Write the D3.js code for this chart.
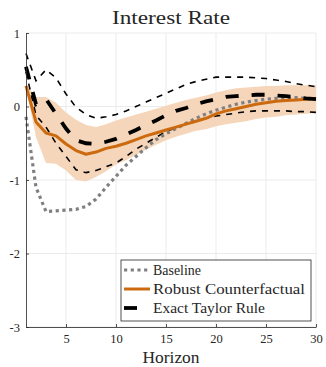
<!DOCTYPE html>
<html>
<head>
<meta charset="utf-8">
<script src="https://cdn.jsdelivr.net/npm/d3@7"></script>
<style>
  body { margin: 0; background: #fff; }
  text { font-family: "Liberation Serif", "DejaVu Serif", serif; fill: #262626; }
</style>
</head>
<body>
<div id="chart"></div>
<script>
// horizons 1..30
const horizon = d3.range(1, 31);

const baseline = [-0.14, -1.10, -1.43, -1.42, -1.41, -1.40, -1.36, -1.26, -1.10, -0.95,
  -0.80, -0.68, -0.56, -0.45, -0.37, -0.30, -0.23, -0.16, -0.10, -0.05,
  -0.01, 0.03, 0.06, 0.08, 0.10, 0.11, 0.11, 0.12, 0.11, 0.10];

const robust = [0.28, -0.21, -0.36, -0.40, -0.51, -0.60, -0.65, -0.62, -0.57, -0.54,
  -0.50, -0.45, -0.40, -0.36, -0.32, -0.28, -0.24, -0.20, -0.16, -0.10,
  -0.06, -0.03, 0.00, 0.03, 0.05, 0.07, 0.08, 0.09, 0.10, 0.11];

const bandUpper = [0.30, 0.13, 0.13, 0.05, -0.08, -0.18, -0.25, -0.28, -0.24, -0.19,
  -0.15, -0.11, -0.07, -0.03, 0.01, 0.05, 0.09, 0.12, 0.15, 0.19,
  0.22, 0.25, 0.26, 0.27, 0.28, 0.28, 0.29, 0.29, 0.29, 0.29];

const bandLower = [0.26, -0.42, -0.77, -0.78, -0.87, -1.00, -1.02, -0.96, -0.88, -0.79,
  -0.73, -0.66, -0.59, -0.52, -0.46, -0.41, -0.37, -0.33, -0.31, -0.27,
  -0.24, -0.22, -0.20, -0.17, -0.15, -0.14, -0.12, -0.11, -0.10, -0.09];

const taylor = [0.54, 0.03, 0.10, -0.10, -0.30, -0.46, -0.50, -0.51, -0.48, -0.44,
  -0.38, -0.32, -0.25, -0.19, -0.12, -0.06, -0.02, 0.03, 0.07, 0.10,
  0.13, 0.14, 0.15, 0.16, 0.16, 0.15, 0.14, 0.13, 0.11, 0.10];

const taylorUpper = [0.72, 0.35, 0.50, 0.39, 0.17, -0.01, -0.11, -0.16, -0.14, -0.11,
  -0.06, 0.00, 0.06, 0.12, 0.18, 0.24, 0.30, 0.34, 0.37, 0.40,
  0.40, 0.40, 0.40, 0.39, 0.38, 0.36, 0.34, 0.31, 0.29, 0.27];

const taylorLower = [0.47, -0.12, -0.28, -0.50, -0.68, -0.86, -0.90, -0.87, -0.82, -0.77,
  -0.68, -0.58, -0.50, -0.42, -0.34, -0.29, -0.24, -0.20, -0.16, -0.13,
  -0.11, -0.09, -0.07, -0.06, -0.06, -0.06, -0.06, -0.07, -0.07, -0.08];

const xTicks = [5, 10, 15, 20, 25, 30];
const yTicks = [1, 0, -1, -2, -3];
const yTickLabels = ["1", "0", "-1", "-2", "-3"];

const legendLabels = ["Baseline", "Robust Counterfactual", "Exact Taylor Rule"];

const width = 326;
const height = 367;

const svg = d3.select("#chart").append("svg")
  .attr("width", width)
  .attr("height", height);

const xScale = d3.scaleLinear().domain([1, 30]).range([26, 316]);
const yScale = d3.scaleLinear().domain([-3, 1]).range([327, 33]);

// grid
svg.append("g")
  .selectAll("line")
  .data(xTicks)
  .enter()
  .append("line")
  .attr("x1", d => xScale(d)).attr("x2", d => xScale(d))
  .attr("y1", yScale(1)).attr("y2", yScale(-3))
  .attr("stroke", "#e6e6e6").attr("stroke-width", 0.8);

svg.append("g")
  .selectAll("line")
  .data(yTicks)
  .enter()
  .append("line")
  .attr("x1", xScale(1)).attr("x2", xScale(30))
  .attr("y1", d => yScale(d)).attr("y2", d => yScale(d))
  .attr("stroke", "#e6e6e6").attr("stroke-width", 0.8);

// band
const area = d3.area()
  .x((d, i) => xScale(horizon[i]))
  .y0((d, i) => yScale(bandLower[i]))
  .y1((d, i) => yScale(bandUpper[i]));

svg.append("path")
  .datum(horizon)
  .attr("d", area)
  .attr("fill", "#f6d6ba");

function lineOf(values) {
  return d3.line()
    .x((d, i) => xScale(horizon[i]))
    .y(d => yScale(d))(values);
}

// thin dashed bounds
[taylorUpper, taylorLower].forEach(function (s) {
  svg.append("path")
    .attr("d", lineOf(s))
    .attr("fill", "none")
    .attr("stroke", "#000")
    .attr("stroke-width", 1.6)
    .attr("stroke-dasharray", "6,6");
});

// baseline dotted
svg.append("path")
  .attr("d", lineOf(baseline))
  .attr("fill", "none")
  .attr("stroke", "#808080")
  .attr("stroke-width", 3.2)
  .attr("stroke-dasharray", "3.2,3.5");

// robust
svg.append("path")
  .attr("d", lineOf(robust))
  .attr("fill", "none")
  .attr("stroke", "#cc6a10")
  .attr("stroke-width", 3)
  .attr("stroke-linejoin", "round");

// exact taylor
svg.append("path")
  .attr("d", lineOf(taylor))
  .attr("fill", "none")
  .attr("stroke", "#000")
  .attr("stroke-width", 3.8)
  .attr("stroke-dasharray", "13,13");

// axes
const xAxis = d3.axisBottom(xScale).tickValues(xTicks).tickSizeInner(-3).tickSizeOuter(0).tickPadding(7);
const gx = svg.append("g")
  .attr("transform", "translate(0," + yScale(-3) + ")")
  .call(xAxis);

const yAxis = d3.axisLeft(yScale).tickValues(yTicks)
  .tickFormat((d, i) => yTickLabels[i])
  .tickSizeInner(-3).tickSizeOuter(0).tickPadding(6);
const gy = svg.append("g")
  .attr("transform", "translate(" + xScale(1) + ",0)")
  .call(yAxis);

[gx, gy].forEach(function (g) {
  g.attr("font-family", null);
  g.select(".domain").attr("stroke", "#262626").attr("stroke-width", 0.8);
  g.selectAll(".tick line").attr("stroke", "#262626").attr("stroke-width", 0.8);
  g.selectAll(".tick text")
    .attr("font-size", 12.5)
    .attr("fill", "#262626");
});

// title
svg.append("text")
  .attr("x", 171).attr("y", 23.5)
  .attr("text-anchor", "middle")
  .attr("font-size", 19)
  .attr("textLength", 118)
  .attr("lengthAdjust", "spacingAndGlyphs")
  .text("Interest Rate");

// x label
svg.append("text")
  .attr("x", 171).attr("y", 363)
  .attr("text-anchor", "middle")
  .attr("font-size", 17)
  .attr("textLength", 57)
  .attr("lengthAdjust", "spacingAndGlyphs")
  .text("Horizon");

// legend
const legend = svg.append("g");
legend.append("rect")
  .attr("x", 121).attr("y", 260)
  .attr("width", 190).attr("height", 61)
  .attr("fill", "#fff")
  .attr("stroke", "#262626")
  .attr("stroke-width", 0.8);

const legendStyles = [
  { stroke: "#808080", width: 3.2, dash: "3.2,3.5", x2: 150 },
  { stroke: "#cc6a10", width: 3, dash: null, x2: 150 },
  { stroke: "#000", width: 3.8, dash: null, x2: 137 }
];
const legendWidths = [48, 152, 112];

legendLabels.forEach(function (lab, i) {
  const yy = 270 + i * 19;
  legend.append("line")
    .attr("x1", 124).attr("x2", legendStyles[i].x2)
    .attr("y1", yy).attr("y2", yy)
    .attr("stroke", legendStyles[i].stroke)
    .attr("stroke-width", legendStyles[i].width)
    .attr("stroke-dasharray", legendStyles[i].dash);
  legend.append("text")
    .attr("x", 153).attr("y", yy + 5)
    .attr("font-size", 14.5)
    .attr("textLength", legendWidths[i])
    .attr("lengthAdjust", "spacingAndGlyphs")
    .text(lab);
});
</script>
</body>
</html>
